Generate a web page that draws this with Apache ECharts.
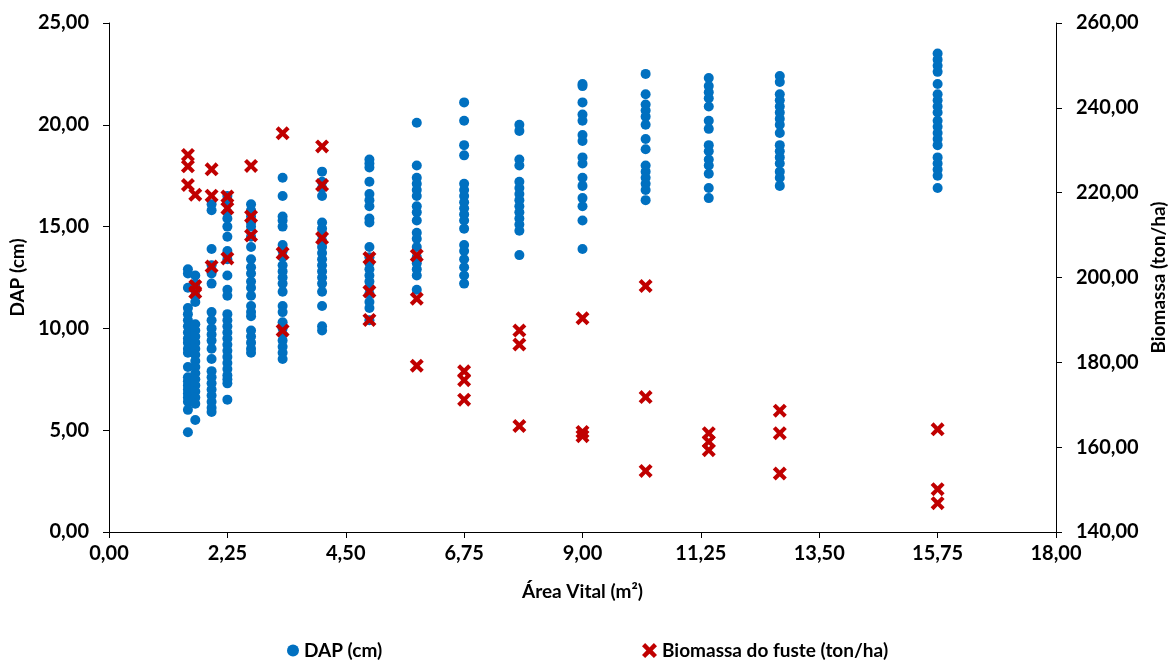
<!DOCTYPE html>
<html>
<head>
<meta charset="utf-8">
<script src="https://cdn.jsdelivr.net/npm/echarts@6/dist/echarts.min.js"></script>
<style>html,body{margin:0;padding:0;background:#fff}#c{width:1168px;height:660px}</style>
</head>
<body>
<div id="c"></div>
<script>
// Área Vital (m²) of each column
var areaVital = [1.5, 1.64, 1.95, 2.25, 2.7, 3.3, 4.05, 4.95, 5.85, 6.75, 7.8, 9.0, 10.2, 11.4, 12.75, 15.75];
// DAP (cm) per column
var dapValues = [
  [12.9, 12.7, 12.0, 11.0, 10.7, 10.4, 10.1, 9.8, 9.5, 9.3, 9.0, 8.8, 8.1, 7.6, 7.4, 7.2, 7.0, 6.8, 6.6, 6.4, 6.0, 4.9],
  [12.6, 12.2, 11.9, 11.6, 11.3, 10.2, 9.9, 9.6, 9.3, 9.0, 8.7, 8.4, 8.1, 7.8, 7.5, 7.2, 6.9, 6.6, 6.3, 5.5],
  [16.1, 15.8, 13.9, 13.1, 12.7, 12.2, 10.8, 10.4, 10.0, 9.7, 9.4, 9.0, 8.5, 7.9, 7.6, 7.3, 7.0, 6.7, 6.4, 6.1, 5.9],
  [16.5, 16.2, 15.7, 15.4, 15.0, 14.5, 13.8, 13.4, 12.6, 11.9, 11.6, 10.7, 10.4, 10.1, 9.8, 9.5, 9.2, 8.9, 8.6, 8.3, 8.0, 7.7, 7.5, 7.3, 6.5],
  [16.1, 15.8, 15.5, 15.2, 15.0, 14.5, 14.0, 13.4, 13.0, 12.7, 12.3, 12.0, 11.6, 11.1, 10.8, 10.6, 9.9, 9.6, 9.3, 9.0, 8.8],
  [17.4, 16.5, 15.5, 15.3, 15.0, 14.1, 13.8, 13.5, 13.1, 12.8, 12.5, 12.2, 11.8, 11.1, 10.8, 10.3, 10.0, 9.7, 9.4, 9.1, 8.8, 8.5],
  [17.7, 17.2, 16.9, 16.5, 15.2, 14.9, 14.6, 14.3, 14.0, 13.7, 13.4, 13.1, 12.8, 12.5, 12.2, 11.8, 11.1, 10.1, 9.9],
  [18.3, 18.1, 17.9, 17.2, 16.6, 16.3, 16.0, 15.4, 15.2, 14.0, 13.5, 13.2, 12.9, 12.6, 12.3, 12.0, 11.7, 11.3, 11.0, 10.4],
  [20.1, 18.0, 17.4, 17.1, 16.8, 16.5, 16.0, 15.7, 15.3, 14.7, 14.4, 14.0, 13.5, 13.2, 12.9, 12.6, 11.9],
  [21.1, 20.2, 19.0, 18.5, 17.1, 16.8, 16.5, 16.2, 15.9, 15.6, 15.3, 14.9, 14.1, 13.8, 13.4, 13.0, 12.6, 12.2],
  [20.0, 19.7, 18.3, 18.0, 17.2, 16.9, 16.6, 16.3, 16.0, 15.7, 15.4, 15.1, 14.8, 13.6],
  [22.0, 21.9, 21.1, 20.5, 20.2, 19.5, 19.2, 18.4, 18.1, 17.4, 17.0, 16.4, 16.0, 15.3, 13.9],
  [22.5, 21.5, 21.0, 20.7, 20.4, 20.0, 19.3, 18.8, 18.0, 17.7, 17.4, 17.1, 16.8, 16.3],
  [22.3, 21.9, 21.6, 21.3, 20.9, 20.2, 19.8, 19.0, 18.7, 18.3, 18.0, 17.6, 16.9, 16.4],
  [22.4, 22.1, 21.5, 21.2, 20.9, 20.6, 20.3, 20.0, 19.6, 19.0, 18.7, 18.4, 18.1, 17.7, 17.4, 17.0],
  [23.5, 23.2, 22.9, 22.6, 22.0, 21.5, 21.2, 20.9, 20.6, 20.2, 19.9, 19.6, 19.3, 19.0, 18.4, 18.1, 17.8, 17.5, 16.9]
];
// Biomassa do fuste (ton/ha) per column
var biomassaValues = [
  [228.9, 226.2, 221.8],
  [219.5, 198.0, 196.5],
  [225.5, 219.3, 202.6],
  [219.1, 216.3, 204.5],
  [226.3, 214.4, 209.9],
  [234.0, 205.7, 187.5],
  [230.9, 221.8, 209.3],
  [204.6, 196.7, 190.0],
  [205.2, 195.0, 179.2],
  [177.9, 175.8, 171.2],
  [187.5, 184.2, 165.0],
  [190.4, 163.6, 162.6],
  [198.0, 171.8, 154.4],
  [163.3, 161.3, 159.3],
  [168.6, 163.3, 153.8],
  [164.2, 150.1, 146.8]
];
var seriesNames = ['DAP (cm)', 'Biomassa do fuste (ton/ha)'];

function pairs(xs, groups) {
  var out = [];
  for (var i = 0; i < xs.length; i++) {
    for (var j = 0; j < groups[i].length; j++) out.push([xs[i], groups[i][j]]);
  }
  return out;
}
function fmt(v) { return v.toFixed(2).replace('.', ','); }

var FONT = 'Lato';
var crossPath = 'path://M0,2.5 L2.5,0 L6,3.5 L9.5,0 L12,2.5 L8.5,6 L12,9.5 L9.5,12 L6,8.5 L2.5,12 L0,9.5 L3.5,6 Z';
var axisLineStyle = { color: '#000', width: 1 };
var labelStyle = { color: '#000', fontFamily: FONT, fontWeight: 'bold', fontSize: 20 };
var nameStyle = { color: '#000', fontFamily: FONT, fontWeight: 'bold', fontSize: 19 };

var chart = echarts.init(document.getElementById('c'), null, { renderer: 'canvas' });
chart.setOption({
  animation: false,
  backgroundColor: '#fff',
  grid: { left: 109, right: 112, top: 23, bottom: 128, containLabel: false, outerBoundsMode: 'none' },
  legend: [
    { data: [seriesNames[0]], left: 282, top: 636, itemWidth: 12, itemHeight: 12, itemGap: 6,
      textStyle: nameStyle },
    { data: [seriesNames[1]], left: 637, top: 636, itemWidth: 15, itemHeight: 15, itemGap: 7,
      textStyle: nameStyle }
  ],
  xAxis: {
    type: 'value', min: 0, max: 18, interval: 2.25,
    name: 'Área Vital (m²)', nameLocation: 'middle', nameGap: 50, nameTextStyle: nameStyle,
    axisLine: { show: true, onZero: false, lineStyle: axisLineStyle },
    axisTick: { show: true, inside: false, length: 6, lineStyle: axisLineStyle },
    axisLabel: Object.assign({ margin: 12, formatter: fmt }, labelStyle),
    splitLine: { show: false }
  },
  yAxis: [
    {
      type: 'value', min: 0, max: 25, interval: 5, position: 'left',
      name: 'DAP (cm)', nameLocation: 'middle', nameGap: 80, nameRotate: 90, nameTextStyle: nameStyle,
      axisLine: { show: true, lineStyle: axisLineStyle },
      axisTick: { show: true, length: 6, lineStyle: axisLineStyle },
      axisLabel: Object.assign({ margin: 20, formatter: fmt }, labelStyle),
      splitLine: { show: false }
    },
    {
      type: 'value', min: 140, max: 260, interval: 20, position: 'right',
      name: 'Biomassa (ton/ha)', nameLocation: 'middle', nameGap: 93, nameRotate: 90, nameTextStyle: nameStyle,
      axisLine: { show: true, lineStyle: axisLineStyle },
      axisTick: { show: true, length: 6, lineStyle: axisLineStyle },
      axisLabel: Object.assign({ margin: 20, formatter: fmt }, labelStyle),
      splitLine: { show: false }
    }
  ],
  series: [
    {
      name: seriesNames[0], type: 'scatter', yAxisIndex: 0,
      symbol: 'circle', symbolSize: 10,
      itemStyle: { color: '#0070C0', opacity: 1 },
      data: pairs(areaVital, dapValues), z: 2
    },
    {
      name: seriesNames[1], type: 'scatter', yAxisIndex: 1,
      symbol: crossPath, symbolSize: 14,
      itemStyle: { color: '#C00000', opacity: 1 },
      data: pairs(areaVital, biomassaValues), z: 3
    }
  ]
});
</script>
</body>
</html>
